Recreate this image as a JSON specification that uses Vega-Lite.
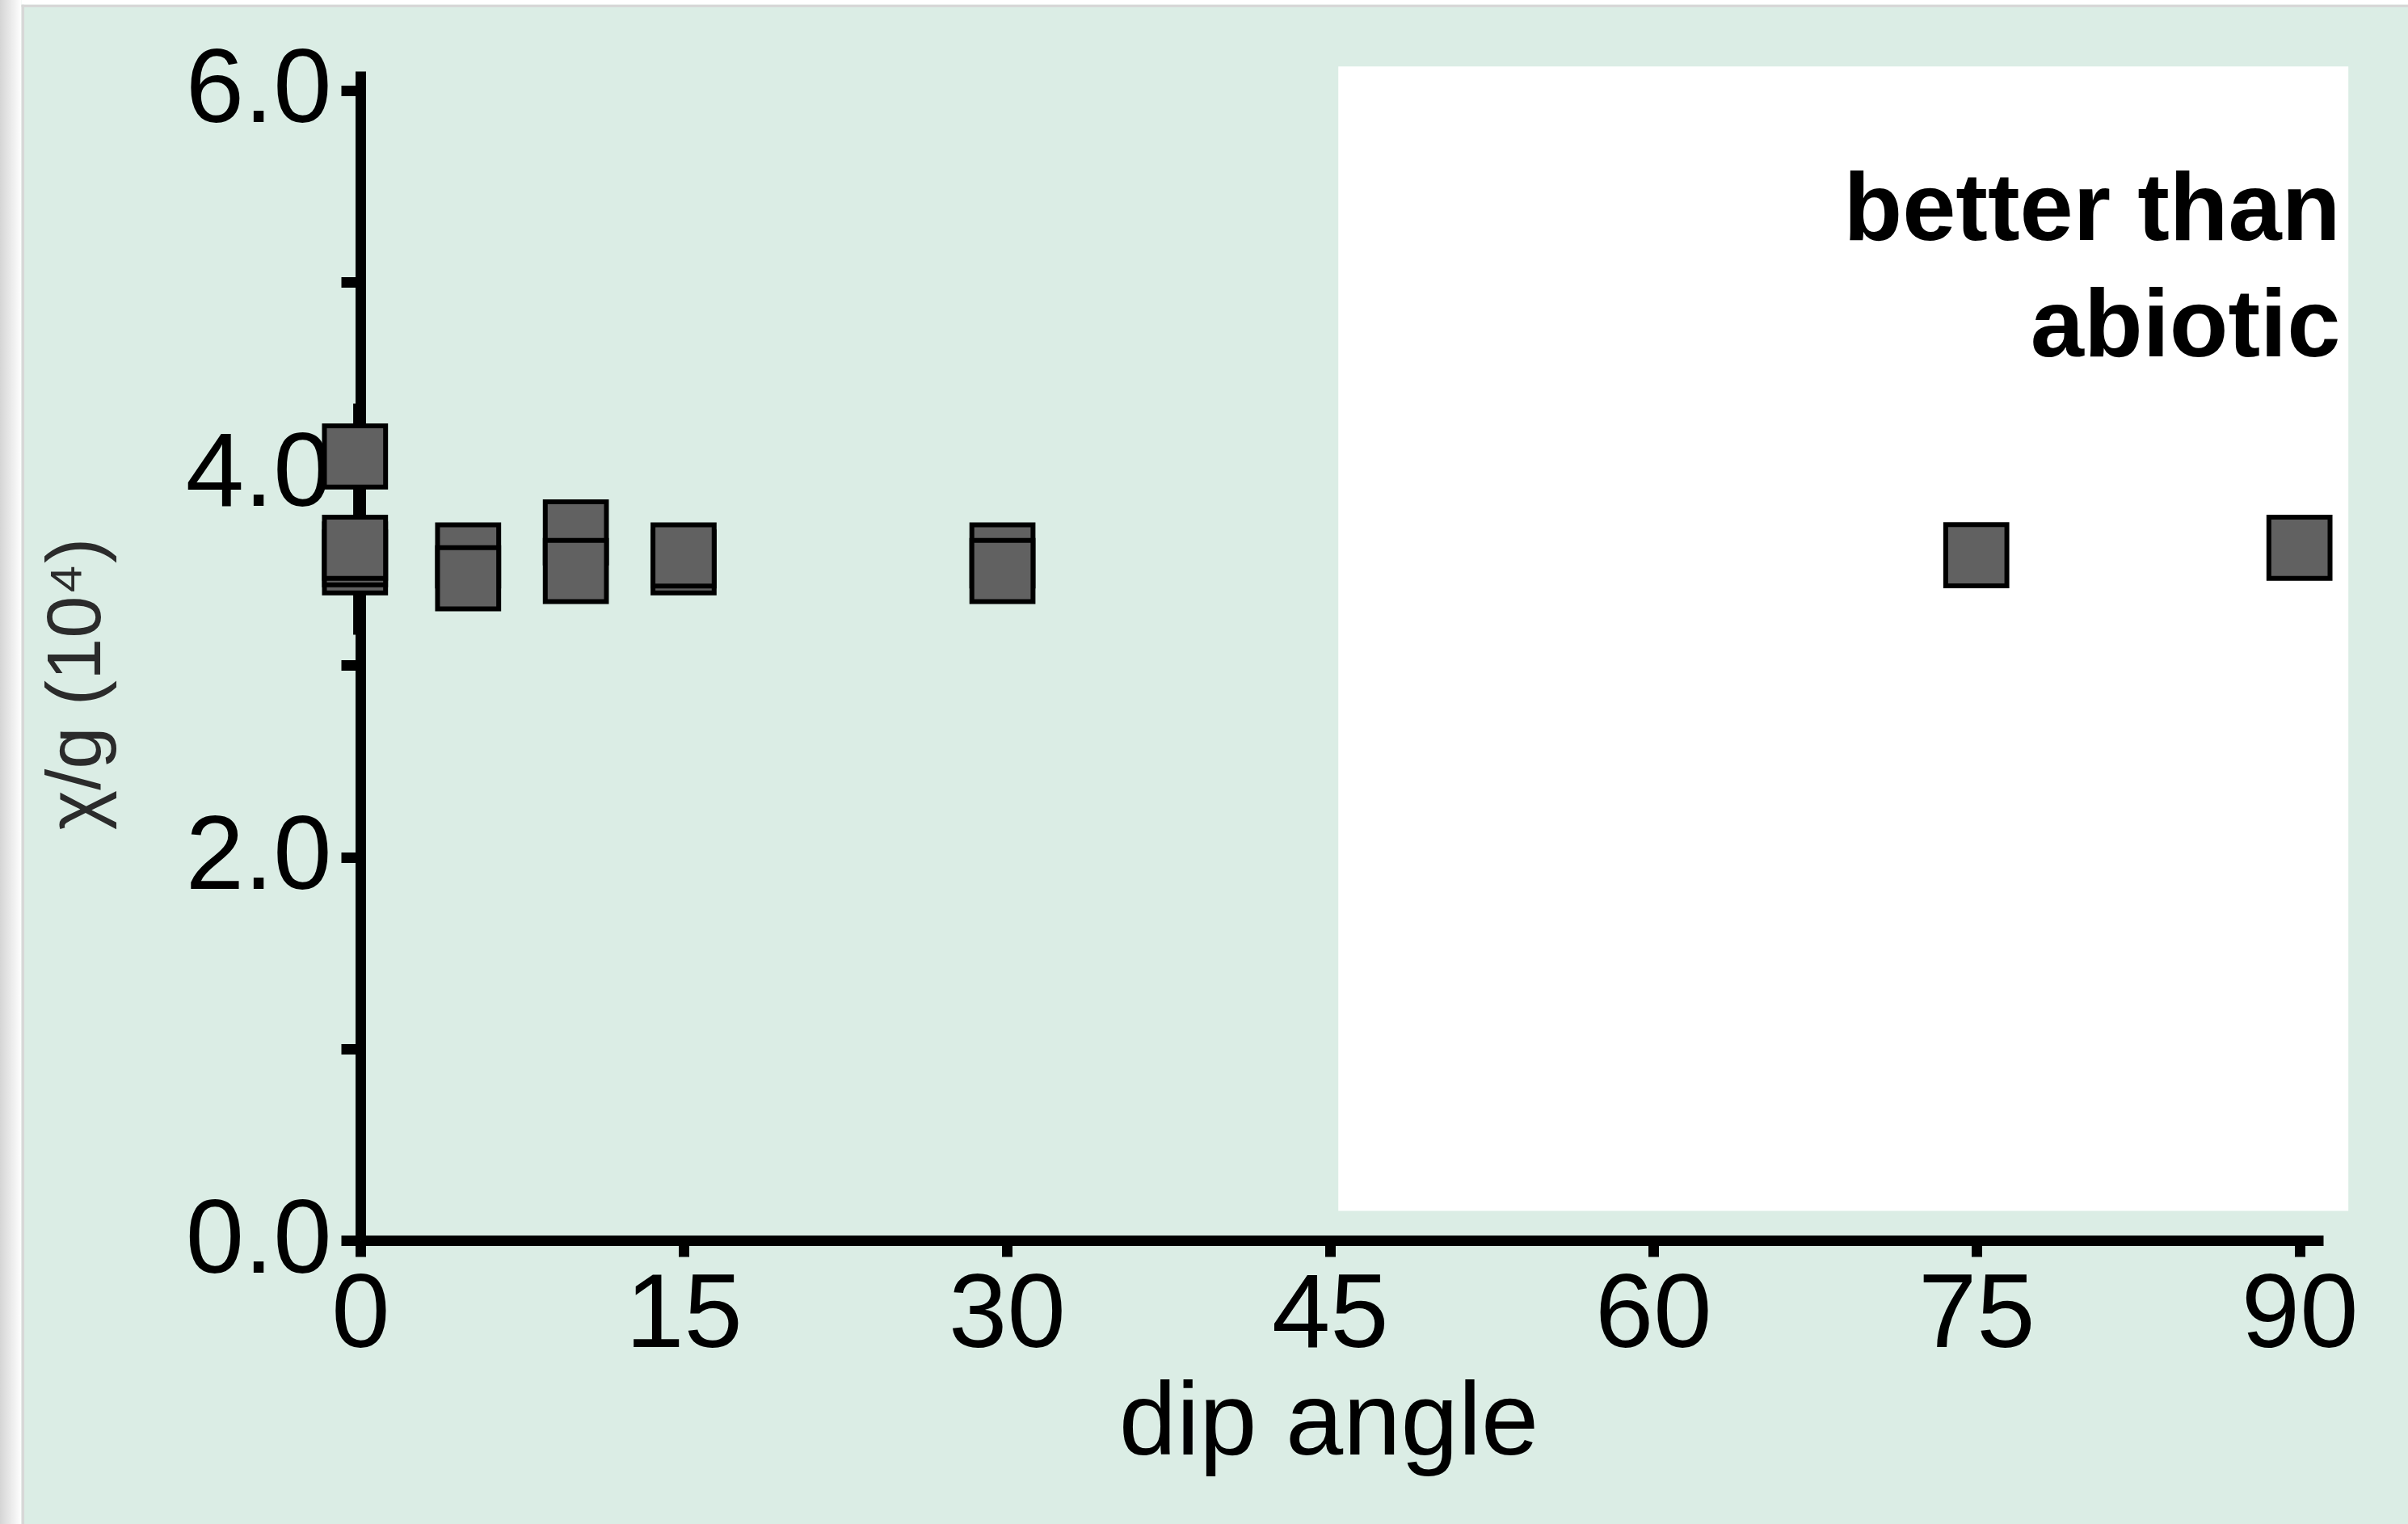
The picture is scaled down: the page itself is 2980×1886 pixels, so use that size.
{
  "$schema": "https://vega.github.io/schema/vega-lite/v6.json",
  "width": 2429,
  "height": 1447,
  "autosize": {"type": "none"},
  "padding": {"left": 446, "top": 88, "right": 105, "bottom": 351},
  "background": "#dbede5",
  "view": {"stroke": null, "fill": null},
  "config": {
    "font": "Liberation Sans",
    "axis": {
      "grid": false,
      "domainColor": "#000000",
      "domainWidth": 13,
      "tickColor": "#000000",
      "tickWidth": 13,
      "labelFont": "Liberation Sans",
      "labelFontSize": 130,
      "labelColor": "#000000",
      "labelLimit": 0,
      "titleFont": "Liberation Sans",
      "titleFontWeight": "normal",
      "labelFlush": false,
      "labelOverlap": false
    }
  },
  "datasets": {
    "points": [
      {"dip": -0.25, "chi": 4.09},
      {"dip": -0.25, "chi": 3.537},
      {"dip": -0.25, "chi": 3.579},
      {"dip": -0.25, "chi": 3.613},
      {"dip": 5, "chi": 3.573},
      {"dip": 5, "chi": 3.454},
      {"dip": 10, "chi": 3.693},
      {"dip": 10, "chi": 3.492},
      {"dip": 15, "chi": 3.537},
      {"dip": 15, "chi": 3.573},
      {"dip": 29.8, "chi": 3.573},
      {"dip": 29.8, "chi": 3.492},
      {"dip": 75, "chi": 3.574},
      {"dip": 90, "chi": 3.613}
    ],
    "errbar": [{"dip": -0.1, "lo": 3.16, "hi": 4.365}],
    "region": [{"x1": 45.39, "x2": 92.27, "y1": 0.154, "y2": 6.124}],
    "labels": [
      {"dip": 91.9, "chi": 5.218, "text": "better than"},
      {"dip": 91.9, "chi": 4.61, "text": "abiotic"}
    ]
  },
  "layer": [
    {
      "data": {"values": [{}]},
      "mark": {"type": "rect", "fill": {"gradient": "linear", "x1": 0, "y1": 0, "x2": 1, "y2": 0, "stops": [{"offset": 0, "color": "#d2d2d2"}, {"offset": 1, "color": "#ffffff"}]}},
      "encoding": {
        "x": {"datum": -16.8, "type": "quantitative", "scale": {"domain": [0, 91.1], "nice": false, "zero": false}},
        "x2": {"datum": -15.73},
        "y": {"datum": 6.6, "type": "quantitative", "scale": {"domain": [0, 6.1], "nice": false, "zero": false}},
        "y2": {"datum": -1.6}
      }
    },
    {
      "data": {"values": [{}]},
      "mark": {"type": "rect", "fill": "#ffffff"},
      "encoding": {
        "x": {"datum": -15.73, "type": "quantitative"},
        "x2": {"datum": 95.2},
        "y": {"datum": 6.6, "type": "quantitative"},
        "y2": {"datum": 6.447}
      }
    },
    {
      "data": {"values": [{}]},
      "mark": {"type": "rect", "fill": "#d7d7d7"},
      "encoding": {
        "x": {"datum": -15.73, "type": "quantitative"},
        "x2": {"datum": -15.6},
        "y": {"datum": 6.447, "type": "quantitative"},
        "y2": {"datum": -1.6}
      }
    },
    {
      "data": {"values": [{}]},
      "mark": {"type": "rect", "fill": "#d7d7d7"},
      "encoding": {
        "x": {"datum": -15.73, "type": "quantitative"},
        "x2": {"datum": 95.2},
        "y": {"datum": 6.447, "type": "quantitative"},
        "y2": {"datum": 6.433}
      }
    },
    {
      "data": {"name": "region"},
      "mark": {"type": "rect", "fill": "#ffffff"},
      "encoding": {
        "x": {"field": "x1", "type": "quantitative"},
        "x2": {"field": "x2"},
        "y": {"field": "y1", "type": "quantitative"},
        "y2": {"field": "y2"}
      }
    },
    {
      "data": {"name": "errbar"},
      "mark": {"type": "rule", "stroke": "#000000", "strokeWidth": 12.5},
      "encoding": {
        "x": {"field": "dip", "type": "quantitative"},
        "y": {"field": "lo", "type": "quantitative"},
        "y2": {"field": "hi"}
      }
    },
    {
      "data": {"name": "points"},
      "mark": {"type": "point", "shape": "square", "filled": true, "fill": "#616161", "stroke": "#000000", "strokeWidth": 6, "size": 5730, "opacity": 1},
      "encoding": {
        "x": {
          "field": "dip", "type": "quantitative",
          "axis": {
            "values": [0, 15, 30, 45, 60, 75, 90],
            "tickSize": 20,
            "labelPadding": 8,
            "title": "dip angle",
            "titleFontSize": 128,
            "titleColor": "#000000",
            "titlePadding": 6,
            "titleX": 1198
          }
        },
        "y": {
          "field": "chi", "type": "quantitative",
          "axis": {
            "values": [0, 1, 2, 3, 4, 5, 6],
            "labelExpr": "datum.value % 2 == 0 ? format(datum.value, '.1f') : ''",
            "tickSize": 24,
            "labelPadding": 12,
            "title": "χ/g (10⁴)",
            "titleFontSize": 94,
            "titleColor": "#2b2b2b",
            "titlePadding": 103,
            "titleY": 758
          }
        }
      }
    },
    {
      "data": {"name": "labels"},
      "mark": {"type": "text", "align": "right", "baseline": "alphabetic", "font": "Liberation Sans", "fontWeight": "bold", "fontSize": 119, "color": "#000000"},
      "encoding": {
        "x": {"field": "dip", "type": "quantitative"},
        "y": {"field": "chi", "type": "quantitative"},
        "text": {"field": "text"}
      }
    }
  ]
}
